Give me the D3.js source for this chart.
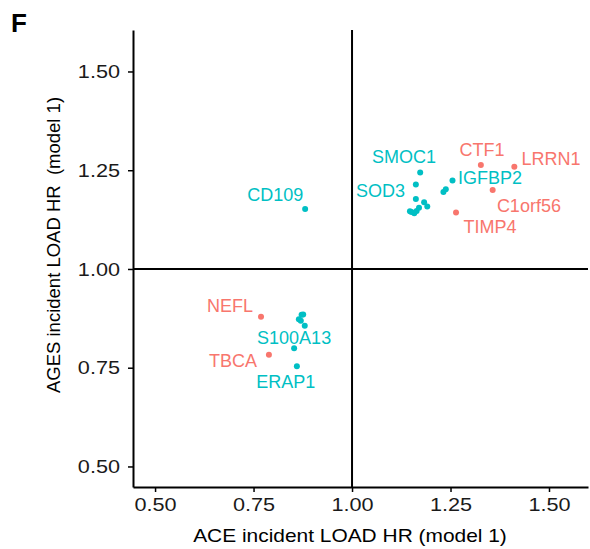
<!DOCTYPE html>
<html lang="en">
<head>
<meta charset="utf-8" />
<title>ACE vs AGES incident LOAD HR</title>
<script src="https://d3js.org/d3.v7.min.js"></script>
<style>
  body{margin:0;background:#fff;font-family:"Liberation Sans",Arial,sans-serif;}
  svg{display:block;}
  .axis path,.axis line{stroke:#000;}
  .axis text{font-size:19px;fill:#1a1a1a;font-family:"Liberation Sans",Arial,sans-serif;}
</style>
</head>
<body>
<svg id="chart" width="590" height="549"></svg>
<script>
// -------------- DATA --------------
// points: ACE HR (x), AGES HR (y), group (0 = teal, 1 = red)
const ACE_HR=[0.881,1.173,1.162,1.255,1.238,1.232,1.162,1.183,1.191,1.170,1.151,1.158,1.164,1.147,
  1.327,1.412,1.357,1.264,
  0.769,0.789,
  0.872,0.876,0.865,0.870,0.880,0.853,0.860];
const AGES_HR=[1.152,1.244,1.214,1.224,1.202,1.195,1.177,1.169,1.158,1.155,1.144,1.141,1.147,1.146,
  1.263,1.259,1.200,1.143,
  0.879,0.783,
  0.884,0.885,0.873,0.869,0.856,0.799,0.754];
const GROUP=[0,0,0,0,0,0,0,0,0,0,0,0,0,0,
  1,1,1,1,
  1,1,
  0,0,0,0,0,0,0];

// labels placed (repel-style) in data units
const LABELS=['SMOC1','SOD3','IGFBP2','CTF1','LRRN1','C1orf56','TIMP4','CD109','NEFL','S100A13','TBCA','ERAP1'];
const LABEL_X=[1.132,1.072,1.350,1.330,1.505,1.449,1.350,0.805,0.690,0.853,0.698,0.832];
const LABEL_Y=[1.284,1.197,1.230,1.301,1.278,1.159,1.106,1.187,0.905,0.825,0.767,0.715];
const LABEL_GROUP=[0,0,0,1,1,1,1,0,1,0,1,0];

const TICKS=[0.50,0.75,1.00,1.25,1.50];
const COLORS=['#00BFC4','#F8766D'];

// -------------- SCALES --------------
const svg=d3.select('#chart');
const x=d3.scaleLinear().domain([0.444,1.599]).range([133,588]);
const y=d3.scaleLinear().domain([0.448,1.605]).range([487,30]);

// horizontal text in the original is a little wider than plain Arial
function widen(sel,k){
  sel.each(function(){
    const w=this.getComputedTextLength();
    d3.select(this).attr('textLength',w*k).attr('lengthAdjust','spacingAndGlyphs');
  });
}

// reference lines at HR = 1
svg.append('line').attr('x1',x(1)).attr('x2',x(1)).attr('y1',y.range()[1]).attr('y2',y.range()[0])
  .attr('stroke','#000').attr('stroke-width',2);
svg.append('line').attr('x1',x.range()[0]).attr('x2',x.range()[1]).attr('y1',y(1)).attr('y2',y(1))
  .attr('stroke','#000').attr('stroke-width',2);

// axes
const fmt=d3.format('.2f');
svg.append('g').attr('class','axis').attr('transform',`translate(0,${y.range()[0]})`)
  .call(d3.axisBottom(x).tickValues(TICKS).tickFormat(fmt).tickSize(5).tickPadding(5).tickSizeOuter(0))
  .call(g=>g.select('.domain').attr('stroke-width',2))
  .call(g=>g.selectAll('.tick line').attr('stroke-width',1.5))
  .call(g=>g.selectAll('.tick text').attr('dy','0.72em').call(widen,1.14));
svg.append('g').attr('class','axis').attr('transform',`translate(${x.range()[0]},0)`)
  .call(d3.axisLeft(y).tickValues(TICKS).tickFormat(fmt).tickSize(5).tickPadding(8).tickSizeOuter(0))
  .call(g=>g.select('.domain').attr('stroke-width',2))
  .call(g=>g.selectAll('.tick line').attr('stroke-width',1.5))
  .call(g=>g.selectAll('.tick text').call(widen,1.14));

// points
svg.append('g').selectAll('circle').data(ACE_HR).join('circle')
  .attr('cx',d=>x(d)).attr('cy',(d,i)=>y(AGES_HR[i])).attr('r',3)
  .attr('fill',(d,i)=>COLORS[GROUP[i]]);

// labels
svg.append('g').selectAll('text').data(LABELS).join('text')
  .attr('x',(d,i)=>x(LABEL_X[i])).attr('y',(d,i)=>y(LABEL_Y[i]))
  .attr('text-anchor','middle').attr('dominant-baseline','central')
  .attr('font-size',18).attr('fill',(d,i)=>COLORS[LABEL_GROUP[i]])
  .text(d=>d);

// axis titles
svg.append('text').attr('x',350).attr('y',542)
  .attr('text-anchor','middle').attr('font-size',18.5).attr('fill','#000')
  .text('ACE incident LOAD HR (model 1)')
  .call(widen,1.13);
svg.append('text').attr('transform','translate(60,245) rotate(-90)')
  .attr('text-anchor','middle').attr('font-size',18.5).attr('fill','#000')
  .attr('xml:space','preserve').style('white-space','pre')
  .text('AGES incident LOAD HR  (model 1)');

// panel tag
svg.append('text').attr('x',11).attr('y',32).attr('font-size',26).attr('font-weight','bold')
  .attr('fill','#000').text('F');
</script>
</body>
</html>
